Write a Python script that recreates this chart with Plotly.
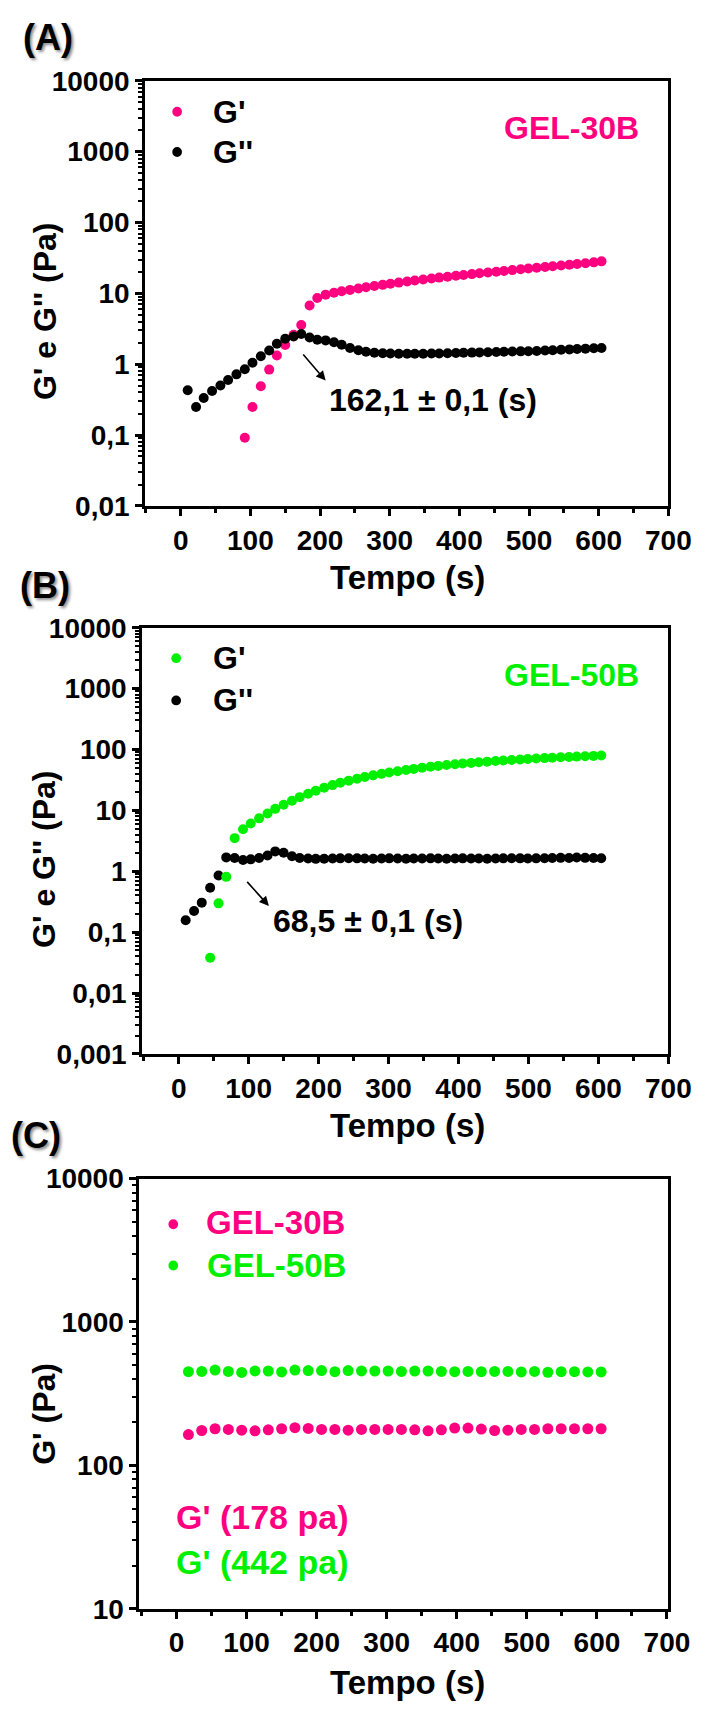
import plotly.graph_objects as go

W, H = 718, 1718
PINK = "#FF0080"
GREEN = "#00F000"
FONT = "Liberation Sans"

# ---------------- data ----------------
t_s = [10, 22, 33, 45, 57, 68, 80, 92, 103, 115, 127, 138, 150, 162, 173, 185, 196, 208,
       220, 231, 243, 255, 266, 278, 290, 301, 313, 325, 336, 348, 360, 371, 383, 395, 406,
       418, 429, 441, 453, 464, 476, 488, 499, 511, 523, 534, 546, 558, 569, 581, 593, 604]

# Panel A (GEL-30B)
a_gp = [0.092, 0.25, 0.49, 0.84, 1.33, 1.87, 2.6, 3.57, 6.75, 8.6, 9.6, 10.2, 10.7, 11.2, 11.7,
        12.2, 12.7, 13.2, 13.7, 14.2, 14.7, 15.2, 15.7, 16.2, 16.7, 17.2, 17.7, 18.2, 18.7, 19.2,
        19.7, 20.2, 20.7, 21.3, 21.9, 22.4, 23.0, 23.6, 24.2, 24.8, 25.4, 26.0, 26.7, 27.4, 28.3]
a_gp_t = t_s[7:]
a_gpp = [0.43, 0.25, 0.335, 0.42, 0.50, 0.60, 0.72, 0.85, 1.05, 1.30, 1.56, 1.95, 2.29, 2.46,
         2.68, 2.39, 2.22, 2.17, 2.04, 1.89, 1.70, 1.58, 1.50, 1.45, 1.43, 1.42, 1.41, 1.41,
         1.41, 1.41, 1.42, 1.42, 1.43, 1.44, 1.45, 1.46, 1.47, 1.48, 1.49, 1.50, 1.51, 1.52,
         1.53, 1.54, 1.56, 1.58, 1.60, 1.62, 1.64, 1.66, 1.68, 1.70]

# Panel B (GEL-50B)
b_gp = [0.038, 0.297, 0.81, 3.5, 4.9, 6.1, 7.4, 8.9, 10.6, 12.4, 14.4, 16.5, 18.7, 21, 23.5,
        26, 28.5, 30.8, 33, 35.3, 37.6, 39.8, 42, 44, 46, 48, 50, 52, 53.8, 55.5, 57.2, 58.8,
        60.3, 61.8, 63.2, 64.6, 66, 67.3, 68.6, 69.8, 71, 72.2, 73.3, 74.4, 75.5, 76.5, 77.5,
        78.5, 79.5]
b_gp_t = t_s[3:]
b_gpp = [0.157, 0.223, 0.305, 0.535, 0.85, 1.69, 1.65, 1.53, 1.57, 1.65, 1.82, 2.12, 2.01,
         1.76, 1.65, 1.62, 1.60, 1.61, 1.62, 1.63, 1.64, 1.63, 1.62, 1.61, 1.62, 1.63, 1.62,
         1.61, 1.62, 1.62, 1.63, 1.62, 1.61, 1.62, 1.63, 1.62, 1.62, 1.61, 1.62, 1.63, 1.64,
         1.63, 1.62, 1.63, 1.64, 1.65, 1.66, 1.65, 1.68, 1.66, 1.65, 1.64]

# Panel C
t_c = [17, 36, 55, 74, 93, 112, 131, 150, 169, 188, 207, 226, 245, 264, 283, 302, 321, 340,
       359, 378, 397, 416, 435, 454, 473, 492, 511, 530, 549, 568, 587, 606]
c_30b = [164, 175, 180, 178, 176, 174, 177, 180, 183, 181, 178, 178, 176, 178, 178, 178, 178,
         177, 174, 177, 182, 182, 179, 175, 176, 178, 178, 180, 180, 180, 180, 180]
c_50b = [450, 452, 462, 452, 445, 456, 455, 448, 462, 458, 458, 450, 458, 456, 455, 455, 452,
         455, 455, 452, 450, 452, 450, 452, 452, 448, 452, 446, 450, 450, 448, 448]

x_ticks = [0, 100, 200, 300, 400, 500, 600, 700]
ya_vals = [0.01, 0.1, 1, 10, 100, 1000, 10000]
ya_text = ["0,01", "0,1", "1", "10", "100", "1000", "10000"]
yb_vals = [0.001, 0.01, 0.1, 1, 10, 100, 1000, 10000]
yb_text = ["0,001", "0,01", "0,1", "1", "10", "100", "1000", "10000"]
yc_vals = [10, 100, 1000, 10000]
yc_text = ["10", "100", "1000", "10000"]


def px(x):
    return x / W


def py(y):
    return 1 - y / H


fig = go.Figure()

# ---------------- traces ----------------
fig.add_trace(go.Scatter(x=a_gp_t, y=a_gp, mode="markers", xaxis="x", yaxis="y",
                         marker=dict(color=PINK, size=10), showlegend=False))
fig.add_trace(go.Scatter(x=t_s, y=a_gpp, mode="markers", xaxis="x", yaxis="y",
                         marker=dict(color="black", size=10), showlegend=False))
fig.add_trace(go.Scatter(x=t_s, y=b_gpp, mode="markers", xaxis="x2", yaxis="y2",
                         marker=dict(color="black", size=10), showlegend=False))
fig.add_trace(go.Scatter(x=b_gp_t, y=b_gp, mode="markers", xaxis="x2", yaxis="y2",
                         marker=dict(color=GREEN, size=10), showlegend=False))
fig.add_trace(go.Scatter(x=t_c, y=c_30b, mode="markers", xaxis="x3", yaxis="y3",
                         marker=dict(color=PINK, size=11), showlegend=False))
fig.add_trace(go.Scatter(x=t_c, y=c_50b, mode="markers", xaxis="x3", yaxis="y3",
                         marker=dict(color=GREEN, size=11), showlegend=False))

# ---------------- axes ----------------
tickfont = dict(family=FONT, size=28, color="black", weight="bold")


def xaxis(left, right, xr, anchor):
    return dict(domain=[px(left), px(right)], range=xr, anchor=anchor,
                tickmode="array", tickvals=x_ticks, ticktext=[str(v) for v in x_ticks],
                ticks="outside", ticklen=7, tickwidth=2.5, tickcolor="black",
                minor=dict(ticks="outside", dtick=50, tick0=0, ticklen=4, tickwidth=2.5,
                           tickcolor="black", showgrid=False),
                showline=True, linecolor="black", linewidth=3, mirror=True,
                showgrid=False, zeroline=False, tickfont=tickfont)


def yaxis(top, bottom, yr, vals, text, anchor):
    return dict(domain=[py(bottom), py(top)], type="log", range=yr, anchor=anchor,
                tickmode="array", tickvals=vals, ticktext=text,
                ticks="outside", ticklen=7, tickwidth=2.5, tickcolor="black",
                minor=dict(ticks="outside", dtick="D1", ticklen=4, tickwidth=1.5,
                           tickcolor="black", showgrid=False),
                showline=True, linecolor="black", linewidth=3, mirror=True,
                showgrid=False, zeroline=False, tickfont=tickfont)


A_T, A_B, A_L, A_R = 67, 500, 150, 690.5
B_T, B_B, B_L, B_R = 624, 1058, 147, 690.5
C_T, C_B, C_L, C_R = 1185, 1623, 144, 690.5

fig.update_layout(
    xaxis=xaxis(A_L, A_R, [-51, 700], "y"),
    yaxis=yaxis(A_T, A_B, [-2, 4], ya_vals, ya_text, "x"),
    xaxis2=xaxis(B_L, B_R, [-52, 700], "y2"),
    yaxis2=yaxis(B_T, B_B, [-3, 4], yb_vals, yb_text, "x2"),
    xaxis3=xaxis(C_L, C_R, [-53, 702], "y3"),
    yaxis3=yaxis(C_T, C_B, [1, 4], yc_vals, yc_text, "x3"),
)

# ---------------- annotations ----------------
ann = []


def txt(text, x, y, size, color="black", xanchor="center", angle=0, shadow=None):
    f = dict(family=FONT, size=size, color=color, weight="bold")
    if shadow:
        f["shadow"] = shadow
    ann.append(dict(text=text, x=px(x), y=py(y), xref="paper", yref="paper",
                    xanchor=xanchor, yanchor="middle", showarrow=False,
                    font=f, textangle=angle))


shadow = "2px 2px 3px rgba(0,0,0,0.45)"
txt("(A)", 50, 23, 36, shadow=shadow)
txt("(B)", 46, 581, 36, shadow=shadow)
txt("(C)", 37, 1141, 36, shadow=shadow)

# axis titles
txt("Tempo (s)", 421, 573, 33)
txt("Tempo (s)", 421, 1131, 33)
txt("Tempo (s)", 421, 1698, 33)
txt("G' e G'' (Pa)", 46, 302, 32, angle=-90)
txt("G' e G'' (Pa)", 46, 860, 32, angle=-90)
txt("G' (Pa)", 46, 1425, 32, angle=-90)

# legends (text)
txt("G'", 218, 99, 32, xanchor="left")
txt("G''", 218, 140, 32, xanchor="left")
txt("GEL-30B", 590, 115, 32, color=PINK)

txt("G'", 218, 655, 32, xanchor="left")
txt("G''", 218, 698, 32, xanchor="left")
txt("GEL-50B", 590, 672, 32, color=GREEN)

txt("GEL-30B", 211, 1230, 33, color=PINK, xanchor="left")
txt("GEL-50B", 212, 1273, 33, color=GREEN, xanchor="left")
txt("G' (178 pa)", 180, 1530, 34, color=PINK, xanchor="left")
txt("G' (442 pa)", 180, 1575, 34, color=GREEN, xanchor="left")

# crossover labels
txt("162,1 ± 0,1 (s)", 338, 392, 32, xanchor="left")
txt("68,5 ± 0,1 (s)", 280, 923, 32, xanchor="left")

# arrows (data coordinates; log axes use log10 values)
ann.append(dict(x=208, y=-0.23, ax=174, ay=0.16, xref="x", yref="y", axref="x", ayref="y",
                showarrow=True, arrowhead=2, arrowsize=1.2, arrowwidth=1.6,
                arrowcolor="black", text=""))
ann.append(dict(x=129, y=-0.57, ax=96, ay=-0.15, xref="x2", yref="y2", axref="x2",
                ayref="y2", showarrow=True, arrowhead=2, arrowsize=1.2, arrowwidth=1.6,
                arrowcolor="black", text=""))

# legend markers as shapes (paper coords)
shapes = []


def dot(x, y, r, color):
    shapes.append(dict(type="circle", xref="paper", yref="paper",
                       x0=px(x - r), x1=px(x + r), y0=py(y + r), y1=py(y - r),
                       fillcolor=color, line=dict(width=0)))


dot(183, 98.5, 5, PINK)
dot(183, 139.5, 5, "black")
dot(182, 655, 5, GREEN)
dot(182, 698, 5, "black")
dot(179, 1231.5, 5, PINK)
dot(179, 1273.5, 5, GREEN)

fig.update_layout(
    width=W, height=H, margin=dict(l=0, r=0, t=0, b=0),
    paper_bgcolor="white", plot_bgcolor="white",
    annotations=ann, shapes=shapes, showlegend=False,
)

fig.write_html("out.html")
